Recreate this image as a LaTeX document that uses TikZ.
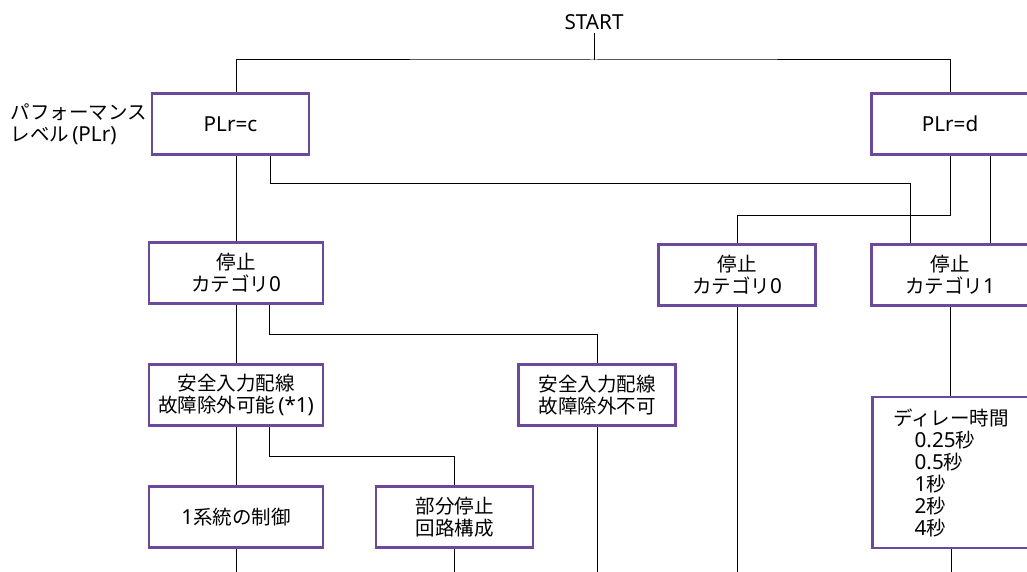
\documentclass[tikz,border=0pt]{standalone}
\usepackage{fontspec}
\setmainfont{Noto Sans CJK JP}
\newfontfamily\latn{Noto Sans}[Scale=1.06]
\usetikzlibrary{positioning}
\definecolor{boxpurple}{HTML}{6B4A9E}

\begin{document}
\begin{tikzpicture}[x=1pt,y=-1pt,
    font=\fontsize{19.5}{22}\selectfont,
    link/.style={draw=black,line width=1pt}]
\useasboundingbox (0,0) rectangle (1027,572);
\clip (0,0) rectangle (1027,572);
\node (start) at (594,22) {\latn START};
\node [align=left,anchor=west] (plrlabel) at (7,124) {パフォーマンス\\レベル\,{\latn (PLr)}};
\begin{scope}[every node/.style={rectangle,draw=boxpurple,line width=2.6pt,
              minimum width=157pt,minimum height=61pt,align=center,inner sep=2pt}]
    \node (plrc) at (230.5,124) {\latn PLr=c};
    \node (plrd) at (950,124) {\latn PLr=d};
    \node (stopB) at (737,275) {停止\\カテゴリ{\latn 0}};
    \node (stopC) at (950,275) {停止\\カテゴリ{\latn 1}};
    \node (safeB) at (597,395) {安全入力配線\\故障除外不可};
    \node (partial) at (454.5,517) {部分停止\\回路構成};
    \node [minimum height=151pt,align=left] (delay) at (951,472.5)
        {ディレー時間\\\hspace*{1.1em}{\latn 0.25}秒\\\hspace*{1.1em}{\latn 0.5}秒\\\hspace*{1.1em}{\latn 1}秒\\\hspace*{1.1em}{\latn 2}秒\\\hspace*{1.1em}{\latn 4}秒};
\end{scope}
\begin{scope}[every node/.style={rectangle,draw=boxpurple,line width=2.6pt,
              minimum width=174pt,minimum height=61pt,align=center,inner sep=2pt}]
    \node (stopA) at (236,273) {停止\\カテゴリ{\latn 0}};
    \node (safeA) at (236,395) {安全入力配線\\故障除外可能\,{\latn (*1)}};
    \node (single) at (236,517) {{\latn 1}系統の制御};
\end{scope}
\coordinate (split) at (594,60);
\coordinate (bottom) at (0,580);
\begin{scope}[every path/.style={link}]
    % START branches
    \path (start.south) edge (split);
    \draw (stopA.north |- plrc.north) |- (split) -| (plrd.north);
    % PLr=c
    \draw (stopA.north |- plrc.south) -- (stopA.north);
    \draw ([xshift=39.5pt]plrc.south) |- (910,184) -- ([xshift=-40pt]stopC.north);
    % PLr=d
    \draw (plrd.south) |- (737,215) -- (stopB.north);
    \draw ([xshift=40pt]plrd.south) -- ([xshift=40pt]stopC.north);
    % stop category 0 (left)
    \draw (stopA.south) -- (safeA.north);
    \draw ([xshift=33pt]stopA.south) |- (597,334) -- (safeB.north);
    \draw (safeA.south) -- (single.north);
    \draw ([xshift=33pt]safeA.south) |- (454.5,456) -- (partial.north);
    % stop category 1
    \draw (stopC.south) -- (stopC.south |- delay.north);
    % lines running on below
    \draw (single.south) -- (single.south |- bottom);
    \draw (partial.south) -- (partial.south |- bottom);
    \draw (safeB.south) -- (safeB.south |- bottom);
    \draw (stopB.south) -- (stopB.south |- bottom);
    \draw (delay.south) -- (delay.south |- bottom);
\end{scope}
\end{tikzpicture}
\end{document}
